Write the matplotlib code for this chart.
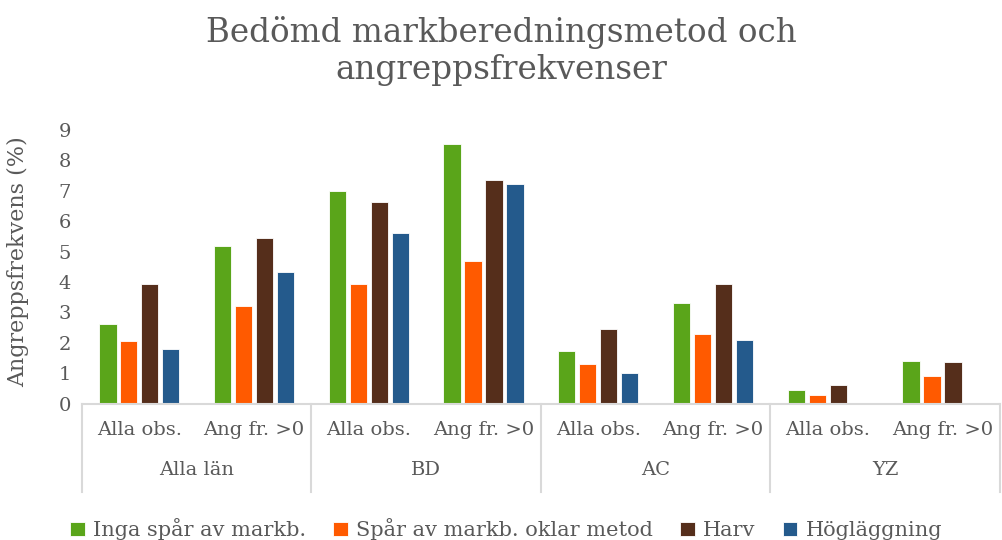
import matplotlib.pyplot as plt
import numpy as np

plt.rcParams["font.family"] = ["DejaVu Serif"]

# data
groups = ["Alla län", "BD", "AC", "YZ"]
subcats = ["Alla obs.", "Ang fr. >0"] * 4
series = ["Inga spår av markb.", "Spår av markb. oklar metod", "Harv", "Högläggning"]
inga = [2.62, 5.17, 6.97, 8.52, 1.75, 3.32, 0.46, 1.42]
oklar = [2.07, 3.22, 3.94, 4.68, 1.31, 2.29, 0.3, 0.93]
harv = [3.92, 5.45, 6.62, 7.35, 2.47, 3.94, 0.63, 1.36]
hog = [1.81, 4.34, 5.62, 7.22, 1.03, 2.09, np.nan, np.nan]
colors = ["#5AA51A", "#FF5A00", "#552E1B", "#245A8C"]

txt = "#595959"
fig = plt.figure(figsize=(10.02, 5.4), dpi=100)
ax = fig.add_axes([0.0818, 0.252, 0.916, 0.508])

x = np.arange(len(subcats))
step = 0.1826
for i, (vals, c) in enumerate(zip([inga, oklar, harv, hog], colors)):
    ax.bar(x + (i - 1.5) * step, vals, width=0.15, color=c,
           edgecolor="white", linewidth=0.6, label=series[i])

ax.set_xlim(-0.5, 7.5)
ax.set_ylim(0, 9)
ax.set_yticks(range(10))
ax.tick_params(axis="y", length=0, labelsize=14, colors=txt, pad=8)
ax.set_xticks(x)
ax.set_xticklabels(subcats)
ax.tick_params(axis="x", length=0, labelsize=14, colors=txt, pad=12)
for s in ["top", "right", "left"]:
    ax.spines[s].set_visible(False)
ax.spines["bottom"].set_color("#D9D9D9")
ax.spines["bottom"].set_linewidth(1.5)
ax.set_ylabel("Angreppsfrekvens (%)", fontsize=16, color=txt)
ax.yaxis.set_label_coords(-0.058, 0.52)

tr = ax.get_xaxis_transform()
for k in range(5):
    ax.plot([k * 2 - 0.5] * 2, [0, -0.32], transform=tr, color="#D9D9D9",
            lw=1.5, clip_on=False)
for k, g in enumerate(groups):
    ax.text(k * 2 + 0.5, -0.24, g, transform=tr, ha="center", va="center",
            fontsize=14, color=txt)

fig.suptitle("Bedömd markberedningsmetod och\nangreppsfrekvenser", y=0.97,
             fontsize=23.5, color=txt, linespacing=1.2)

fig.legend(loc="lower center", bbox_to_anchor=(0.505, -0.035), ncol=4,
           frameon=False, fontsize=15, labelcolor=txt, handlelength=0.7,
           handleheight=0.7, handletextpad=0.4, columnspacing=1.3)

fig.savefig("out.png", dpi=100)
